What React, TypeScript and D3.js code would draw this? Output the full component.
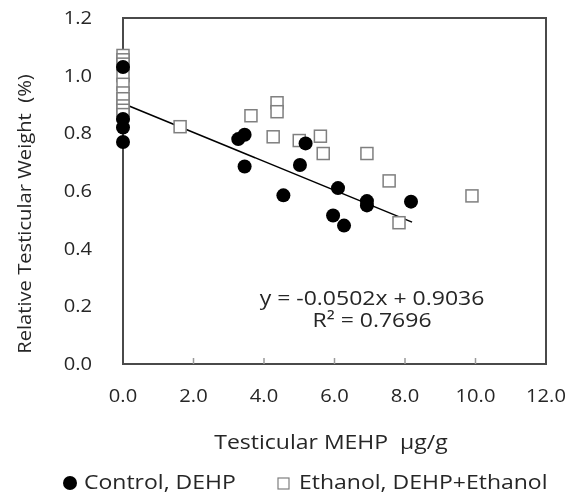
import React, { useEffect, useRef } from 'react'
import * as d3 from 'd3'

// Control, DEHP (filled circles)
const controlX = [0, 0, 0, 0, 3.27, 3.45, 3.45, 4.55, 5.02, 5.18, 5.96, 6.1, 6.27, 6.92, 6.92, 8.17]
const controlY = [1.03, 0.85, 0.82, 0.77, 0.78, 0.795, 0.685, 0.585, 0.69, 0.765, 0.515, 0.61, 0.48, 0.565, 0.55, 0.563]

// Ethanol, DEHP+Ethanol (open squares)
const ethanolX = [0, 0, 0, 0, 0, 0, 0, 0, 0, 0, 1.62, 3.63, 4.37, 4.37, 4.26, 5.0, 5.6, 5.68, 6.92, 7.55, 7.83, 9.9]
const ethanolY = [1.07, 1.055, 1.04, 1.0, 0.97, 0.94, 0.92, 0.895, 0.88, 0.865, 0.823, 0.861, 0.906, 0.875, 0.788, 0.775, 0.79, 0.73, 0.73, 0.635, 0.49, 0.583]

const xTicks = [0, 2, 4, 6, 8, 10, 12]
const yTicks = [0, 0.2, 0.4, 0.6, 0.8, 1.0, 1.2]

const slope = -0.0502
const intercept = 0.9036
const fitRange = [0, 8.2]

const W = 567
const H = 497
const FONT = '"Open Sans", sans-serif'
const TXT = '#262626'

const Chart = () => {
  const ref = useRef<SVGSVGElement>(null)

  useEffect(() => {
    const svg = d3.select(ref.current)
    svg.selectAll('*').remove()

    const x = d3.scaleLinear().domain([0, 12]).range([123, 546])
    const y = d3.scaleLinear().domain([0, 1.2]).range([364, 18])

    // reference glyphs are a little wide, so stretch horizontally
    const label = (g, tx, ty, s, anchor = 'start', size = 19, sx = 1.15, rot = 0) =>
      g.append('text')
        .attr('transform', `translate(${tx},${ty}) rotate(${rot}) scale(${sx},1)`)
        .attr('text-anchor', anchor)
        .attr('font-family', FONT).attr('font-size', size).attr('fill', TXT)
        .style('white-space', 'pre')
        .text(s)

    // frame
    svg.append('rect')
      .attr('x', x(0)).attr('y', y(1.2))
      .attr('width', x(12) - x(0)).attr('height', y(0) - y(1.2))
      .attr('fill', 'none').attr('stroke', '#4a4a4a').attr('stroke-width', 2)

    // x ticks (inward)
    svg.append('g').selectAll('line')
      .data(xTicks.slice(1, -1))
      .enter().append('line')
      .attr('x1', d => x(d)).attr('x2', d => x(d))
      .attr('y1', y(0)).attr('y2', y(0) - 6)
      .attr('stroke', '#9a9a9a').attr('stroke-width', 1.5)

    const xl = svg.append('g')
    xTicks.forEach(d => label(xl, x(d), 402, d.toFixed(1), 'middle', 18, 1.12))

    const yl = svg.append('g')
    yTicks.forEach(d => label(yl, 92, y(d) + 6, d.toFixed(1), 'end', 18, 1.12))

    // trendline
    svg.append('line')
      .attr('x1', x(fitRange[0])).attr('y1', y(intercept + slope * fitRange[0]))
      .attr('x2', x(fitRange[1])).attr('y2', y(intercept + slope * fitRange[1]))
      .attr('stroke', '#000').attr('stroke-width', 1.5)

    const ethanol = ethanolX.map((v, i) => [v, ethanolY[i]])
    svg.append('g').selectAll('rect')
      .data(ethanol)
      .enter().append('rect')
      .attr('x', d => x(d[0]) - 6).attr('y', d => y(d[1]) - 6)
      .attr('width', 12).attr('height', 12)
      .attr('fill', '#fff').attr('stroke', '#7f7f7f').attr('stroke-width', 1.5)

    const control = controlX.map((v, i) => [v, controlY[i]])
    svg.append('g').selectAll('circle')
      .data(control)
      .enter().append('circle')
      .attr('cx', d => x(d[0])).attr('cy', d => y(d[1]))
      .attr('r', 7)
      .attr('fill', '#000')

    // equation
    label(svg, 372, 305, 'y = -0.0502x + 0.9036', 'middle', 20)
    label(svg, 372, 327, 'R² = 0.7696', 'middle', 20)

    // axis titles
    label(svg, 331, 449, 'Testicular MEHP  µg/g', 'middle', 20)
    label(svg, 31, 214, 'Relative Testicular Weight  (%)', 'middle', 18, 1.12, -90)

    // legend
    const lg = svg.append('g')
    lg.append('circle').attr('cx', 70).attr('cy', 483).attr('r', 7).attr('fill', '#000')
    label(lg, 84, 489, 'Control, DEHP', 'start', 20)
    lg.append('rect').attr('x', 278).attr('y', 478).attr('width', 11).attr('height', 11)
      .attr('fill', '#fff').attr('stroke', '#7f7f7f').attr('stroke-width', 1.2)
    label(lg, 299, 489, 'Ethanol, DEHP+Ethanol', 'start', 20)
  }, [])

  return (
    <svg ref={ref} width={W} height={H}
      style={{ position: 'fixed', top: 0, left: 0, display: 'block', overflow: 'visible' }} />
  )
}

export default function App() {
  return <Chart />
}
